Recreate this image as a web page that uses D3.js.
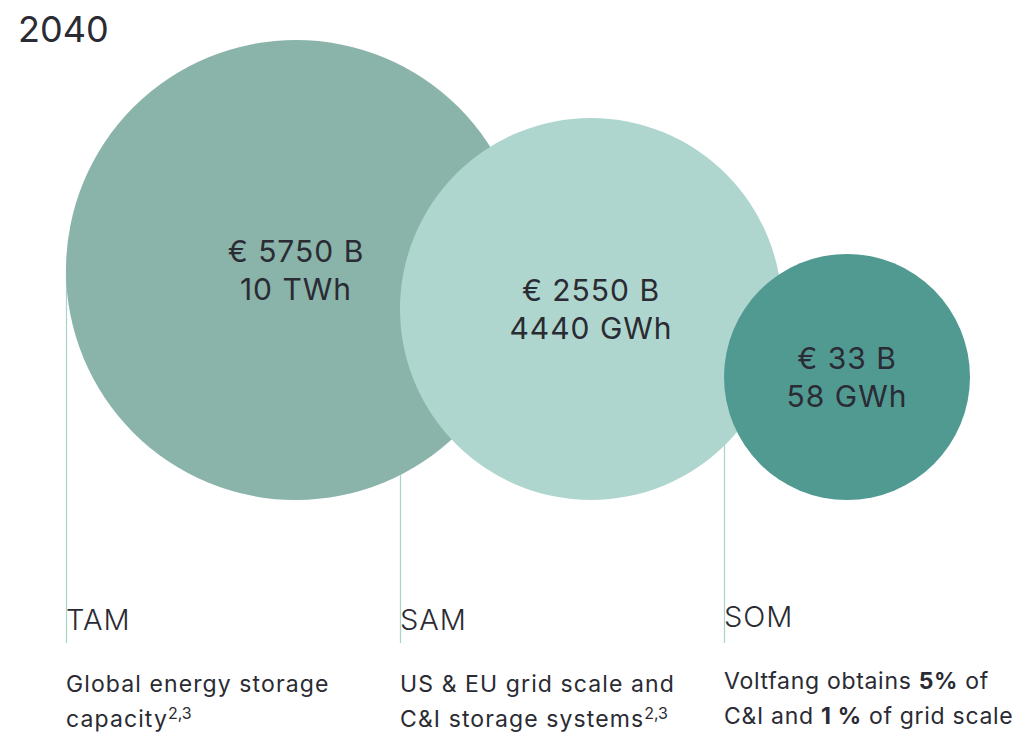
<!DOCTYPE html>
<html lang="en">
<head>
  <meta charset="UTF-8">
  <title>TAM SAM SOM 2040</title>
  <script src="https://cdn.jsdelivr.net/npm/d3@7"></script>
  <style>
    body { margin: 0; background: #fff; }
    svg text { font-family: "Inter", "Noto Sans", sans-serif; fill: #2a2b33; }
  </style>
</head>
<body>
<div id="chart"></div>
<script>
  // data
  var year = "2040";
  var markets = ["TAM", "SAM", "SOM"];
  var valueEur = [5750, 2550, 33];          // billion euro
  var energyLabel = ["10 TWh", "4440 GWh", "58 GWh"];
  // description lines, each an array of [text, style] segments
  var descriptions = [
    [[["Global energy storage", ""]], [["capacity", ""], ["2,3", "sup"]]],
    [[["US & EU grid scale and", ""]], [["C&I storage systems", ""], ["2,3", "sup"]]],
    [[["Voltfang obtains ", ""], ["5%", "b"], [" of", ""]], [["C&I and ", ""], ["1 %", "b"], [" of grid scale", ""]]]
  ];
  var colors = ["#8ab3aa", "#afd6ce", "#519a92"];

  var width = 1017, height = 732;
  var svg = d3.select("#chart").append("svg")
      .attr("width", width).attr("height", height);

  // circle size (not to scale in the original, so piecewise)
  var r = d3.scaleLinear().domain([33, 2550, 5750]).range([123, 191, 230]);
  // left edge of each bubble / leader line
  var left = d3.scaleOrdinal().domain(markets).range([66, 400, 724]);
  var base = 500; // circles sit on a common bottom

  var rows = markets.map(function(m, i) {
    var rad = r(valueEur[i]);
    return { key: m, i: i, r: rad, x0: left(m), cx: left(m) + rad, cy: base - rad };
  });

  svg.append("text")
      .attr("x", 18).attr("y", 42)
      .style("font-size", "36px")
      .text(year);

  // leader lines go under the bubbles
  svg.selectAll("line.lead").data(rows).enter().append("line")
      .attr("class", "lead")
      .attr("x1", d => d.x0 + 0.5).attr("x2", d => d.x0 + 0.5)
      .attr("y1", d => d.cy).attr("y2", 643)
      .attr("stroke", "#a9d3ca").attr("stroke-width", 1.2);

  svg.selectAll("circle.bub").data(rows).enter().append("circle")
      .attr("class", "bub")
      .attr("cx", d => d.cx).attr("cy", d => d.cy).attr("r", d => d.r)
      .attr("fill", d => colors[d.i]);

  var inner = svg.selectAll("g.inner").data(rows).enter().append("g")
      .attr("class", "inner");
  inner.append("text")
      .attr("x", d => d.cx).attr("y", d => d.cy - 8)
      .attr("text-anchor", "middle").style("font-size", "30px")
      .style("letter-spacing", "1px")
      .text(d => "€ " + valueEur[d.i] + " B");
  inner.append("text")
      .attr("x", d => d.cx).attr("y", d => d.cy + 30)
      .attr("text-anchor", "middle").style("font-size", "30px")
      .style("letter-spacing", "1px")
      .text(d => energyLabel[d.i]);

  // bottom labels
  svg.selectAll("text.mk").data(rows).enter().append("text")
      .attr("class", "mk")
      .attr("x", d => d.x0)
      .attr("y", d => d.key == "SOM" ? 627 : 630)
      .style("font-size", "29px").style("font-weight", 300)
      .style("letter-spacing", "1px")
      .text(d => d.key);

  rows.forEach(function(d) {
    var shift = d.key == "SOM" ? -3 : 0;
    var spacing = d.key == "SOM" ? "0.7px" : "1.1px";
    descriptions[d.i].forEach(function(line, li) {
      var t = svg.append("text")
          .attr("x", d.x0)
          .attr("y", 692 + shift + li * 35)
          .style("font-size", "23px")
          .style("letter-spacing", spacing);
      line.forEach(function(seg) {
        var ts = t.append("tspan").text(seg[0]);
        if (seg[1] == "b") ts.style("font-weight", 700);
        if (seg[1] == "sup") ts.style("font-size", "16px").style("letter-spacing", "0px").attr("dy", -8);
      });
    });
  });
</script>
</body>
</html>
